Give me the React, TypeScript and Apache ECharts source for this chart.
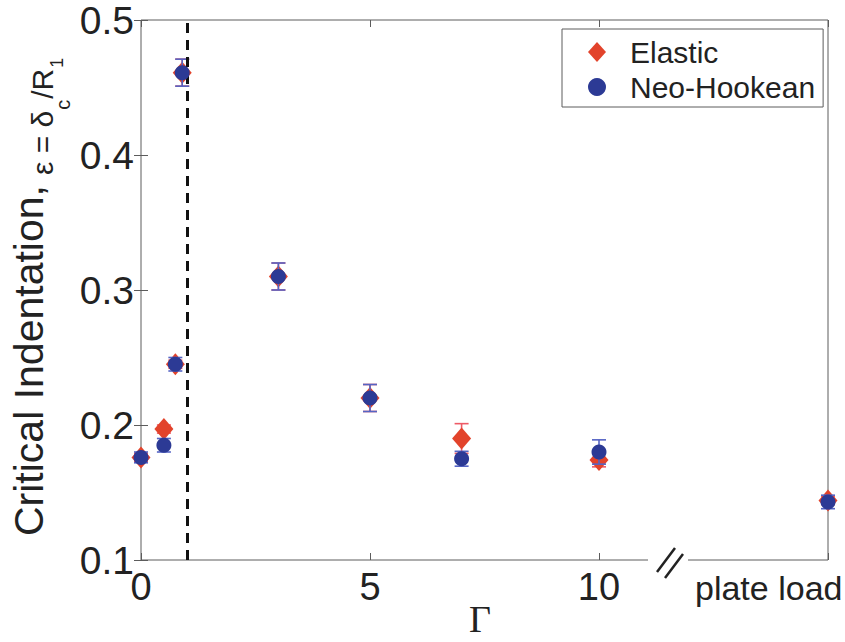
import React, { useEffect, useRef } from 'react';
import * as echarts from 'echarts';

// Γ values of the simulated cases; the last entry stands for the plate-load case
const gammaValues = [0, 0.5, 0.75, 0.9, 3, 5, 7, 10, 15];
const elasticValues = [0.176, 0.197, 0.245, 0.461, 0.31, 0.22, 0.19, 0.174, 0.144];
const elasticErrors = [0.003, 0.003, 0.003, 0.01, 0.01, 0.01, 0.011, 0.005, 0.003];
const neoHookeanValues = [0.176, 0.185, 0.245, 0.461, 0.31, 0.22, 0.175, 0.18, 0.143];
const neoHookeanErrors = [0.004, 0.005, 0.005, 0.01, 0.01, 0.01, 0.0055, 0.009, 0.005];

const xTickLabels = ['0', '5', '10'];
const plateLoadLabel = 'plate load';
const criticalGamma = 1;

const FONT = '"Liberation Sans", Arial, Helvetica, sans-serif';
const AXIS_GREY = '#5c5c5c';
const TEXT = '#222222';
const RED = '#e2432b';
const BLUE = '#2c3a95';

const errorBarRenderer = (color: string) => (params: any, api: any) => {
  const x = api.value(0);
  const lo = api.coord([x, api.value(1)]);
  const hi = api.coord([x, api.value(2)]);
  const half = 7;
  const style = { stroke: color, lineWidth: 1.6 };
  return {
    type: 'group',
    children: [
      { type: 'line', shape: { x1: lo[0], y1: lo[1], x2: hi[0], y2: hi[1] }, style },
      { type: 'line', shape: { x1: lo[0] - half, y1: lo[1], x2: lo[0] + half, y2: lo[1] }, style },
      { type: 'line', shape: { x1: hi[0] - half, y1: hi[1], x2: hi[0] + half, y2: hi[1] }, style },
    ],
  };
};

const errorData = (values: number[], errors: number[]) =>
  gammaValues.map((g, i) => [g, values[i] - errors[i], values[i] + errors[i]]);

// Rotated y-axis title built from pieces so the symbol part and its subscripts
// can sit on their own baselines. Each piece: text, font size, baseline x.
const yTitlePieces: { text: string; size: number; baseX: number; gapBefore: number }[] = [
  { text: 'Critical Indentation,', size: 41, baseX: 43, gapBefore: 0 },
  { text: 'ε = δ', size: 30, baseX: 53, gapBefore: 10 },
  { text: 'c', size: 20, baseX: 70, gapBefore: 1 },
  { text: '/R', size: 30, baseX: 53, gapBefore: 1 },
  { text: '1', size: 18, baseX: 63, gapBefore: 1 },
];

function buildYTitle(startY: number) {
  const canvas = document.createElement('canvas');
  const ctx = canvas.getContext('2d')!;
  let y = startY;
  return yTitlePieces.map((p) => {
    ctx.font = `${p.size}px "Liberation Sans", Arial, sans-serif`;
    const w = ctx.measureText(p.text).width;
    y -= p.gapBefore;
    const el = {
      type: 'text',
      z: 101,
      x: p.baseX - 0.3465 * p.size,
      y,
      rotation: Math.PI / 2,
      style: {
        text: p.text,
        fontSize: p.size,
        fontFamily: FONT,
        fill: TEXT,
        align: 'left',
        verticalAlign: 'middle',
      },
    };
    y -= w;
    return el;
  });
}

export default function App() {
  const ref = useRef<HTMLDivElement>(null);

  useEffect(() => {
    if (!ref.current) return;
    const chart = echarts.init(ref.current, undefined, { renderer: 'svg' });

    const tickStyle = { show: true, inside: true, length: 7, lineStyle: { color: AXIS_GREY, width: 1 } };

    chart.setOption({
      animation: false,
      backgroundColor: '#ffffff',
      textStyle: { fontFamily: FONT },
      grid: {
        left: 141,
        top: 20,
        right: 17,
        bottom: 82,
        show: true,
        borderColor: AXIS_GREY,
        borderWidth: 1,
        backgroundColor: 'transparent',
      },
      legend: {
        orient: 'vertical',
        left: 562,
        top: 29,
        padding: [8, 8, 5, 26],
        itemGap: 5,
        itemWidth: 18,
        itemHeight: 20,
        backgroundColor: '#ffffff',
        borderColor: AXIS_GREY,
        borderWidth: 1,
        textStyle: { fontSize: 30, lineHeight: 30, color: TEXT, fontFamily: FONT, padding: [0, 0, 0, 19] },
        data: [
          { name: 'Elastic', icon: 'diamond' },
          { name: 'Neo-Hookean', icon: 'circle' },
        ],
      },
      xAxis: [
        {
          type: 'value',
          min: 0,
          max: 15,
          interval: 5,
          axisLine: { show: false },
          axisTick: tickStyle,
          splitLine: { show: false },
          axisLabel: {
            margin: 8,
            fontSize: 38,
            color: TEXT,
            formatter: (v: number) => (xTickLabels.includes(String(v)) ? String(v) : ''),
          },
        },
        {
          type: 'value',
          position: 'top',
          min: 0,
          max: 15,
          interval: 5,
          axisLine: { show: false },
          axisTick: tickStyle,
          axisLabel: { show: false },
          splitLine: { show: false },
        },
      ],
      yAxis: [
        {
          type: 'value',
          min: 0.1,
          max: 0.5,
          interval: 0.1,
          axisLine: { show: false },
          axisTick: tickStyle,
          splitLine: { show: false },
          axisLabel: {
            margin: 7,
            fontSize: 39,
            color: TEXT,
            formatter: (v: number) => v.toFixed(1),
          },
        },
        {
          type: 'value',
          position: 'right',
          min: 0.1,
          max: 0.5,
          interval: 0.1,
          axisLine: { show: false },
          axisTick: tickStyle,
          axisLabel: { show: false },
          splitLine: { show: false },
        },
      ],
      series: [
        {
          name: 'Elastic error',
          type: 'custom',
          z: 2,
          renderItem: errorBarRenderer('#ee5a66'),
          encode: { x: 0, y: [1, 2] },
          data: errorData(elasticValues, elasticErrors),
          silent: true,
        },
        {
          name: 'Elastic',
          type: 'scatter',
          z: 3,
          clip: false,
          symbol: 'diamond',
          symbolSize: [19, 22],
          itemStyle: { color: RED, opacity: 1 },
          data: gammaValues.map((g, i) => [g, elasticValues[i]]),
          markLine: {
            silent: true,
            symbol: ['none', 'none'],
            label: { show: false },
            lineStyle: { color: '#111', width: 3, type: [10, 7], opacity: 1 },
            data: [{ xAxis: criticalGamma }],
          },
        },
        {
          name: 'Neo-Hookean error',
          type: 'custom',
          z: 4,
          renderItem: errorBarRenderer('#5564c4'),
          encode: { x: 0, y: [1, 2] },
          data: errorData(neoHookeanValues, neoHookeanErrors),
          silent: true,
        },
        {
          name: 'Neo-Hookean',
          type: 'scatter',
          z: 5,
          clip: false,
          symbol: 'circle',
          symbolSize: 15,
          itemStyle: { color: BLUE, opacity: 1 },
          data: gammaValues.map((g, i) => [g, neoHookeanValues[i]]),
        },
      ],
      graphic: [
        // gap in the bottom axis with the break mark
        { type: 'rect', z: 100, shape: { x: 648, y: 555, width: 40, height: 10 }, style: { fill: '#ffffff' } },
        { type: 'line', z: 101, shape: { x1: 657, y1: 572, x2: 675, y2: 548 }, style: { stroke: TEXT, lineWidth: 2.5 } },
        { type: 'line', z: 101, shape: { x1: 665, y1: 578, x2: 683, y2: 554 }, style: { stroke: TEXT, lineWidth: 2.5 } },
        {
          type: 'text',
          z: 101,
          x: 695,
          y: 588,
          style: { text: plateLoadLabel, fontSize: 34, fontFamily: FONT, fill: TEXT, align: 'left', verticalAlign: 'middle' },
        },
        {
          type: 'text',
          z: 101,
          x: 480,
          y: 619,
          style: {
            text: 'Γ',
            fontSize: 38,
            fontFamily: '"Liberation Serif", "Times New Roman", serif',
            fill: TEXT,
            align: 'center',
            verticalAlign: 'middle',
          },
        },
        ...buildYTitle(536),
      ],
    });

    return () => chart.dispose();
  }, []);

  return (
    <div
      ref={ref}
      style={{ position: 'fixed', left: 0, top: 0, width: 845, height: 642, background: '#fff' }}
    />
  );
}
